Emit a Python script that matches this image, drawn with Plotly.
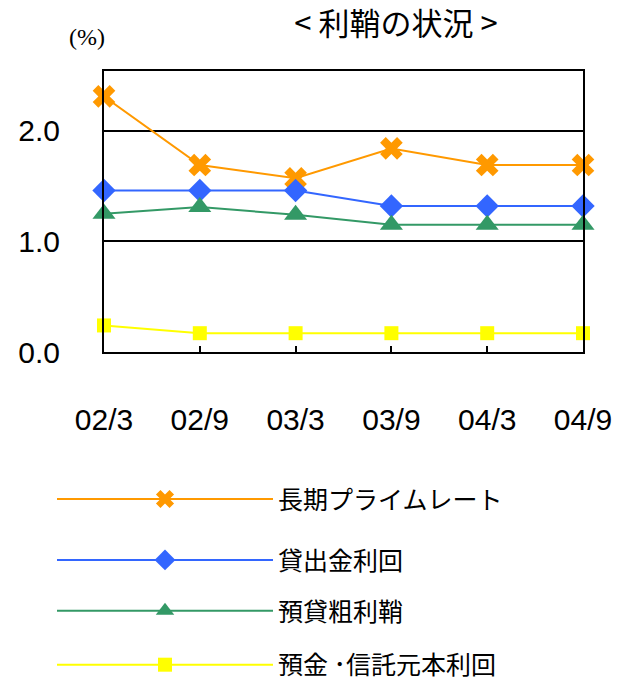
import plotly.graph_objects as go

categories = ["02/3", "02/9", "03/3", "03/9", "04/3", "04/9"]
long_prime = [2.31, 1.69, 1.57, 1.84, 1.69, 1.69]
loan_yield = [1.46, 1.46, 1.46, 1.32, 1.32, 1.32]
gross_margin = [1.25, 1.31, 1.24, 1.15, 1.15, 1.15]
deposit_yield = [0.24, 0.17, 0.17, 0.17, 0.17, 0.17]

names = ["長期プライムレート", "貸出金利回", "預貸粗利鞘", "預金 ･信託元本利回"]
colors = ["#FF9900", "#3366FF", "#339966", "#FFFF00"]
symbols = ["x", "diamond", "triangle-up", "square"]
sizes = [20, 18, 20, 14]
series = [long_prime, loan_yield, gross_margin, deposit_yield]
legend_ids = ["legend", "legend2", "legend3", "legend4"]
legend_y = [500, 561, 612, 666]

W, H = 628, 686
L, R, T, B = 104, 583, 71, 352.5

fig = go.Figure()
for i in range(4):
    fig.add_trace(go.Scatter(
        x=categories, y=series[i], name=names[i], mode="lines+markers",
        line=dict(color=colors[i], width=2),
        marker=dict(symbol=symbols[i], size=sizes[i], color=colors[i]),
        cliponaxis=False, legend=legend_ids[i],
    ))

jp = "Noto Sans CJK JP"
sans = "Arial, Liberation Sans, sans-serif"

def paper_y(py):
    return (B - py) / (B - T)

legend_common = dict(
    x=(52 - L) / (R - L), xanchor="left", yanchor="middle",
    bgcolor="rgba(0,0,0,0)", borderwidth=0, itemwidth=216,
    font=dict(family=jp, size=25, color="#000"),
)
layout_legends = {}
for i, lid in enumerate(legend_ids):
    layout_legends[lid] = dict(legend_common, y=paper_y(legend_y[i]))

fig.update_layout(
    width=W, height=H,
    margin=dict(l=L, r=W - R, t=T, b=H - B, pad=0, autoexpand=False),
    paper_bgcolor="white", plot_bgcolor="white",
    showlegend=True,
    title=dict(text="< 利鞘の状況 >", x=(396 - L) / (R - L), xref="paper",
               xanchor="center", y=1 - 24 / H, yanchor="middle",
               font=dict(family=jp, size=31, color="#000")),
    xaxis=dict(type="category", range=[0, 5], showline=True, mirror=True,
               linecolor="#000", linewidth=2, showgrid=False,
               ticks="inside", ticklen=6, tickwidth=2, tickcolor="#000",
               tickfont=dict(family=sans, size=30, color="#000"),
               ticklabelstandoff=40),
    yaxis=dict(range=[0, 2.54], tickvals=[0, 1, 2], tickformat=".1f",
               showline=True, mirror=True, linecolor="#000", linewidth=2,
               showgrid=True, gridcolor="#000", gridwidth=1.5, zeroline=False,
               ticks="", tickfont=dict(family=sans, size=30, color="#000"),
               ticklabelstandoff=36),
    annotations=[dict(text="(%)", x=(87 - L) / (R - L), y=paper_y(37),
                      xref="paper", yref="paper", showarrow=False,
                      xanchor="center", yanchor="middle",
                      font=dict(family="Liberation Serif", size=24, color="#000"))],
    **layout_legends,
)

fig.write_html("out.html")
